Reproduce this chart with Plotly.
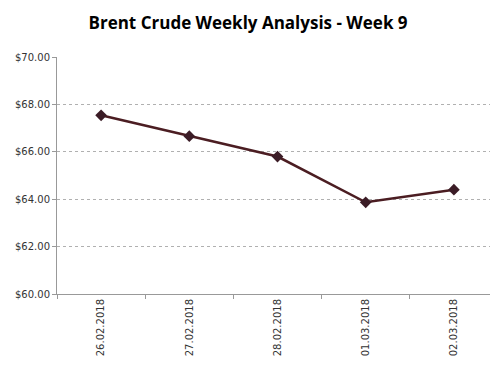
import plotly.graph_objects as go

dates = ["26.02.2018", "27.02.2018", "28.02.2018", "01.03.2018", "02.03.2018"]
prices = [67.54, 66.66, 65.80, 63.87, 64.40]
y_ticks = [60, 62, 64, 66, 68, 70]

fig = go.Figure()
fig.add_trace(go.Scatter(
    x=dates, y=prices, mode="lines+markers",
    line=dict(color="#4b1d22", width=2.5),
    marker=dict(symbol="diamond", size=9, color="#3b1c26"),
    showlegend=False,
))

fig.update_layout(
    width=498, height=368,
    margin=dict(l=49, r=8, t=49, b=82),
    paper_bgcolor="white", plot_bgcolor="white",
    title=dict(text="<b>Brent Crude Weekly Analysis - Week 9</b>",
               x=0.482, xref="container", xanchor="center", y=0.96, yanchor="middle",
               font=dict(family="Open Sans, sans-serif", size=17, color="#000000")),
    font=dict(family="DejaVu Sans, sans-serif", size=10, color="#333333"),
)

fig.update_xaxes(
    type="category", range=[-0.5, 4.5],
    tickson="boundaries", ticks="outside", ticklen=4, tickcolor="#999999",
    tickangle=-90, showline=True, linecolor="#999999", linewidth=1,
    showgrid=False, tickfont=dict(size=10, color="#333333"),
)
fig.update_yaxes(
    range=[60, 70], tickvals=y_ticks, tickformat="$.2f",
    showline=True, linecolor="#999999", linewidth=1,
    ticks="outside", ticklen=4, tickcolor="#999999",
    showgrid=True, gridcolor="#b0b0b0", griddash="dot", gridwidth=1,
    zeroline=False, tickfont=dict(size=10, color="#333333"),
)

fig.write_html("out.html")
